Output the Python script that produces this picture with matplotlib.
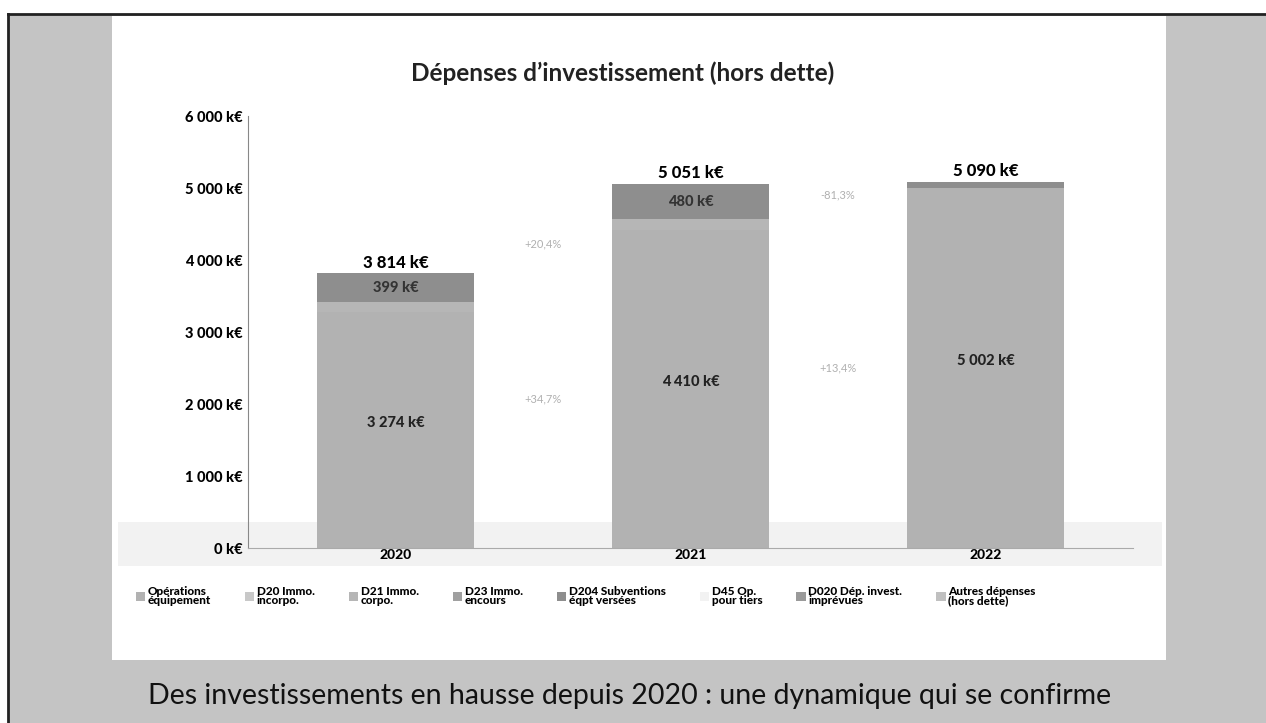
import matplotlib
matplotlib.use("Agg")
import matplotlib.pyplot as plt
from matplotlib.patches import Rectangle
from matplotlib.lines import Line2D
import numpy as np

plt.rcParams['font.family'] = ['Lato', 'DejaVu Sans']

# ---- data ----
years = ["2020", "2021", "2022"]
series_names = ["Opérations\néquipement", "D20 Immo.\nincorpo.", "D21 Immo.\ncorpo.",
                "D23 Immo.\nencours", "D204 Subventions\néqpt versées", "D45 Op.\npour tiers",
                "D020 Dép. invest.\nimprévues", "Autres dépenses\n(hors dette)"]
ops_equipement = [3274, 4410, 5002]
d20 = [0, 0, 0]
d21 = [141, 161, 0]
d23 = [0, 0, 0]
d204 = [399, 480, 88]
d45 = [0, 0, 0]
d020 = [0, 0, 0]
autres = [0, 0, 0]
totals_lbl = ["3 814 k€", "5 051 k€", "5 090 k€"]
ops_lbl = ["3 274 k€", "4 410 k€", "5 002 k€"]
d204_lbl = ["399 k€", "480 k€", ""]
evol_ops = ["+34,7%", "+13,4%"]
evol_d204 = ["+20,4%", "-81,3%"]
yticks = [0, 1000, 2000, 3000, 4000, 5000, 6000]
ytick_lbl = ["0 k€", "1 000 k€", "2 000 k€", "3 000 k€", "4 000 k€", "5 000 k€", "6 000 k€"]

series_vals = [ops_equipement, d20, d21, d23, d204, d45, d020, autres]
series_cols = ["#b2b2b2", "#c8c8c8", "#b6b6b6", "#a0a0a0", "#8e8e8e", "#f2f2f2", "#9a9a9a", "#c0c0c0"]

W, H = 1266, 723
fig = plt.figure(figsize=(W / 100, H / 100), dpi=100)
fig.patch.set_facecolor("white")

def fx(px): return px / W
def fy(py): return 1 - py / H

# gray scanned background inside the frame
fig.patches.append(Rectangle((fx(8), 0), 1 - fx(8), fy(14), transform=fig.transFigure,
                             facecolor="#c4c4c4", edgecolor="none", zorder=-20))
# white panel
fig.patches.append(Rectangle((fx(112), fy(660)), fx(1166) - fx(112), fy(16) - fy(660),
                             transform=fig.transFigure, facecolor="white", edgecolor="none", zorder=-10))
# faint scan band near the axis
fig.patches.append(Rectangle((fx(118), fy(566)), fx(1162) - fx(118), fy(522) - fy(566),
                             transform=fig.transFigure, facecolor="#f2f2f2", edgecolor="none", zorder=-5))
# frame lines (top and left)
fig.lines.append(Line2D([fx(8), 1], [fy(14), fy(14)], transform=fig.transFigure,
                        color="#222222", linewidth=2.0, zorder=5))
fig.lines.append(Line2D([fx(8), fx(8)], [0, fy(14)], transform=fig.transFigure,
                        color="#222222", linewidth=2.0, zorder=5))

ax = fig.add_axes([fx(248), fy(548), fx(1133) - fx(248), fy(116) - fy(548)])
ax.set_facecolor("none")
ax.set_zorder(2)
x = np.arange(len(years))
bottom = np.zeros(len(years))
handles = []
for name, vals, col in zip(series_names, series_vals, series_cols):
    b = ax.bar(x, vals, width=0.53, bottom=bottom, color=col, label=name, zorder=2)
    handles.append(b)
    bottom += np.array(vals)

ax.set_xlim(-0.5, 2.5)
ax.set_ylim(0, 6000)
ax.set_yticks(yticks)
ax.set_yticklabels(ytick_lbl, fontsize=10.5, fontweight="black")
ax.set_xticks(x)
ax.set_xticklabels(years, fontsize=10, fontweight="black")
ax.tick_params(axis="y", length=0, pad=4)
ax.tick_params(axis="x", length=0, pad=1)
for s in ["top", "right"]:
    ax.spines[s].set_visible(False)
ax.spines["left"].set_color("#888888")
ax.spines["left"].set_linewidth(0.8)
ax.spines["left"].set_linestyle((0, (2, 1)))
ax.spines["bottom"].set_color("#aaaaaa")
ax.spines["bottom"].set_linewidth(0.8)

# labels
tot = np.sum(np.array(series_vals), axis=0)
for i in range(len(years)):
    ax.text(x[i], tot[i] + 40, totals_lbl[i], ha="center", va="bottom", fontsize=12, fontweight="black")
    ax.text(x[i], ops_equipement[i] / 2 + 100, ops_lbl[i], ha="center", va="center", fontsize=10.5,
            fontweight="black", color="#222222")
    if d204_lbl[i]:
        base = ops_equipement[i] + d21[i]
        ax.text(x[i], base + d204[i] / 2, d204_lbl[i], ha="center", va="center", fontsize=10.5,
                fontweight="black", color="#333333")

for i in range(2):
    ax.text(x[i] + 0.5, (ops_equipement[i] + ops_equipement[i + 1]) / 4 + 150, evol_ops[i], ha="center",
            va="center", fontsize=8, color="#b0b0b0")
for i, yv in enumerate([4230, 4900]):
    ax.text(x[i] + 0.5, yv, evol_d204[i], ha="center", va="center", fontsize=8, color="#b0b0b0")

leg = fig.legend(handles=handles, labels=series_names, loc="center left",
                 bbox_to_anchor=(fx(125), fy(596)), ncol=8, frameon=False,
                 prop={"size": 8.5, "weight": "black"}, handlelength=0.8, handleheight=0.8,
                 handletextpad=0.2, columnspacing=2.9)
for t in leg.get_texts():
    t.set_linespacing(0.85)

fig.text(fx(623), fy(73), "Dépenses d’investissement (hors dette)", ha="center", va="center",
         fontsize=17.5, fontweight="bold", color="#222222")
fig.text(fx(630), fy(696), "Des investissements en hausse depuis 2020 : une dynamique qui se confirme",
         ha="center", va="center", fontsize=20.5, color="#111111")

fig.savefig("out.png", dpi=100, facecolor=fig.get_facecolor())
